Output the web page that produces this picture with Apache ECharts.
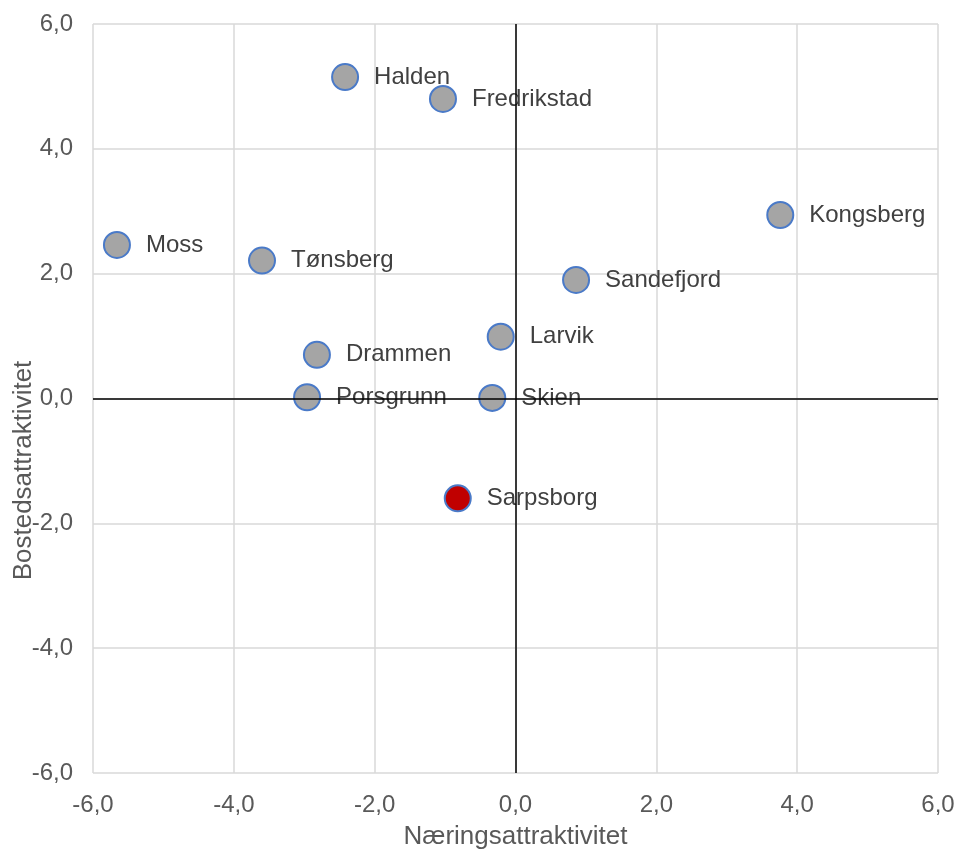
<!DOCTYPE html>
<html lang="no">
<head>
    <meta charset="UTF-8">
    <title>Attraktivitet</title>
    <script src="https://cdn.jsdelivr.net/npm/echarts@6/dist/echarts.min.js"></script>
    <style>
        html, body { margin: 0; padding: 0; background: #fff; }
    </style>
</head>
<body>
    <div id="main" style="width:955px;height:853px;"></div>
    <script>
        // byer og verdier (lest av figuren)
        var byer = ['Halden', 'Fredrikstad', 'Kongsberg', 'Moss', 'Tønsberg', 'Sandefjord',
                    'Larvik', 'Drammen', 'Porsgrunn', 'Skien', 'Sarpsborg'];
        var naering = [-2.42, -1.03, 3.76, -5.66, -3.60, 0.86, -0.21, -2.82, -2.96, -0.33, -0.82];
        var bosted  = [5.15, 4.80, 2.94, 2.46, 2.21, 1.90, 0.99, 0.70, 0.02, 0.01, -1.60];
        var uthevet = 'Sarpsborg';

        var fmt = function (v) { return v.toFixed(1).replace('.', ','); };

        var punkter = byer.map(function (navn, i) {
            return {
                name: navn,
                value: [naering[i], bosted[i]],
                itemStyle: { color: navn === uthevet ? '#c00000' : '#a5a5a5' }
            };
        });

        var font = 'Liberation Sans';
        var myChart = echarts.init(document.getElementById('main'));
        var option = {
            animation: false,
            grid: { left: 93, right: 17, top: 24, bottom: 80, containLabel: false, outerBoundsMode: 'none' },
            xAxis: {
                type: 'value',
                min: -6, max: 6, interval: 2,
                name: 'Næringsattraktivitet',
                nameLocation: 'middle',
                nameGap: 51,
                nameTextStyle: { color: '#595959', fontSize: 26, fontFamily: font },
                axisLine: { show: false },
                axisTick: { show: false },
                axisLabel: { color: '#595959', fontSize: 24, fontFamily: font, margin: 20, formatter: fmt },
                splitLine: { show: true, lineStyle: { color: '#d9d9d9', width: 1.5 } }
            },
            yAxis: {
                type: 'value',
                min: -6, max: 6, interval: 2,
                name: 'Bostedsattraktivitet',
                nameLocation: 'middle',
                nameGap: 56,
                nameMoveOverlap: false,
                nameTextStyle: { color: '#595959', fontSize: 26, fontFamily: font, padding: [0, 144, 0, 0] },
                axisLine: { show: false },
                axisTick: { show: false },
                axisLabel: { color: '#595959', fontSize: 24, fontFamily: font, margin: 20, formatter: fmt },
                splitLine: { show: true, lineStyle: { color: '#d9d9d9', width: 1.5 } }
            },
            series: [{
                type: 'scatter',
                symbolSize: 26,
                itemStyle: { borderColor: '#4a7ac8', borderWidth: 2, opacity: 1 },
                label: {
                    show: true,
                    position: 'right',
                    distance: 15,
                    color: '#404040',
                    fontSize: 24,
                    fontFamily: font,
                    formatter: '{b}'
                },
                markLine: {
                    silent: true,
                    symbol: 'none',
                    label: { show: false },
                    lineStyle: { color: '#000', width: 1.5, type: 'solid' },
                    data: [{ xAxis: 0 }, { yAxis: 0 }]
                },
                z: 3,
                data: punkter
            }]
        };
        myChart.setOption(option);
    </script>
</body>
</html>
